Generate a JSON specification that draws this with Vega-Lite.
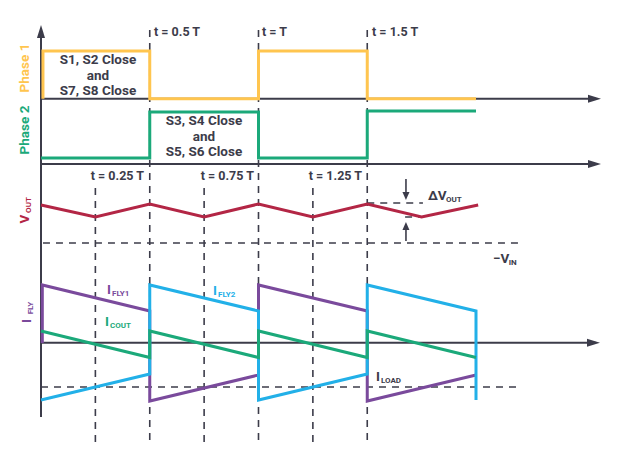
{
  "$schema": "https://vega.github.io/schema/vega-lite/v6.json",
  "width": 637,
  "height": 458,
  "autosize": {"type": "fit", "contains": "padding"},
  "padding": 0,
  "background": "#ffffff",
  "config": {"view": {"stroke": null}},
  "datasets": {
    "sig": [
      {"s": "ph1", "i": 0, "t": 0.009, "y": 98.7},
      {"s": "ph1", "i": 1, "t": 0.009, "y": 51},
      {"s": "ph1", "i": 2, "t": 0.5, "y": 51},
      {"s": "ph1", "i": 3, "t": 0.5, "y": 98.7},
      {"s": "ph1", "i": 4, "t": 1, "y": 98.7},
      {"s": "ph1", "i": 5, "t": 1, "y": 51},
      {"s": "ph1", "i": 6, "t": 1.5, "y": 51},
      {"s": "ph1", "i": 7, "t": 1.5, "y": 98.7},
      {"s": "ph1", "i": 8, "t": 2, "y": 98.7},
      {"s": "ph2", "i": 0, "t": 0, "y": 158},
      {"s": "ph2", "i": 1, "t": 0.5, "y": 158},
      {"s": "ph2", "i": 2, "t": 0.5, "y": 112},
      {"s": "ph2", "i": 3, "t": 1, "y": 112},
      {"s": "ph2", "i": 4, "t": 1, "y": 158},
      {"s": "ph2", "i": 5, "t": 1.5, "y": 158},
      {"s": "ph2", "i": 6, "t": 1.5, "y": 111},
      {"s": "ph2", "i": 7, "t": 2, "y": 111},
      {"s": "vout", "i": 0, "t": 0, "y": 205},
      {"s": "vout", "i": 1, "t": 0.25, "y": 217},
      {"s": "vout", "i": 2, "t": 0.5, "y": 204},
      {"s": "vout", "i": 3, "t": 0.75, "y": 217},
      {"s": "vout", "i": 4, "t": 1, "y": 204},
      {"s": "vout", "i": 5, "t": 1.25, "y": 217},
      {"s": "vout", "i": 6, "t": 1.5, "y": 204},
      {"s": "vout", "i": 7, "t": 1.75, "y": 217},
      {"s": "vout", "i": 8, "t": 2.01, "y": 205},
      {"s": "ifly1", "i": 0, "t": 0.006, "y": 343},
      {"s": "ifly1", "i": 1, "t": 0.006, "y": 285},
      {"s": "ifly1", "i": 2, "t": 0.5, "y": 311},
      {"s": "ifly1", "i": 3, "t": 0.5, "y": 401},
      {"s": "ifly1", "i": 4, "t": 1, "y": 375},
      {"s": "ifly1", "i": 5, "t": 1, "y": 285},
      {"s": "ifly1", "i": 6, "t": 1.5, "y": 311},
      {"s": "ifly1", "i": 7, "t": 1.5, "y": 401},
      {"s": "ifly1", "i": 8, "t": 2, "y": 375},
      {"s": "ifly2", "i": 0, "t": 0, "y": 400},
      {"s": "ifly2", "i": 1, "t": 0.5, "y": 374},
      {"s": "ifly2", "i": 2, "t": 0.5, "y": 285},
      {"s": "ifly2", "i": 3, "t": 1, "y": 311},
      {"s": "ifly2", "i": 4, "t": 1, "y": 400},
      {"s": "ifly2", "i": 5, "t": 1.5, "y": 374},
      {"s": "ifly2", "i": 6, "t": 1.5, "y": 285},
      {"s": "ifly2", "i": 7, "t": 2, "y": 311},
      {"s": "ifly2", "i": 8, "t": 2, "y": 400},
      {"s": "icout", "i": 0, "t": 0, "y": 331},
      {"s": "icout", "i": 1, "t": 0.5, "y": 357.5},
      {"s": "icout", "i": 2, "t": 0.5, "y": 331},
      {"s": "icout", "i": 3, "t": 1, "y": 357.5},
      {"s": "icout", "i": 4, "t": 1, "y": 331},
      {"s": "icout", "i": 5, "t": 1.5, "y": 357.5},
      {"s": "icout", "i": 6, "t": 1.5, "y": 331},
      {"s": "icout", "i": 7, "t": 2, "y": 357.5}
    ],
    "rules": [
      {"k": "dash", "t": 0.5, "t2": 0.5, "y": 30, "y2": 445},
      {"k": "dash", "t": 1, "t2": 1, "y": 30, "y2": 445},
      {"k": "dash", "t": 1.5, "t2": 1.5, "y": 30, "y2": 445},
      {"k": "dash", "t": 0.25, "t2": 0.25, "y": 188, "y2": 445},
      {"k": "dash", "t": 0.75, "t2": 0.75, "y": 188, "y2": 445},
      {"k": "dash", "t": 1.25, "t2": 1.25, "y": 188, "y2": 445},
      {"k": "dash", "t": 0.009, "t2": 2.2115, "y": 243, "y2": 243},
      {"k": "dash", "t": 0, "t2": 2.202, "y": 387, "y2": 387},
      {"k": "dash", "t": 1.5, "t2": 1.756, "y": 203, "y2": 203},
      {"k": "dash", "t": 1.674, "t2": 1.756, "y": 217, "y2": 217},
      {"k": "axis", "t": 0, "t2": 0, "y": 32, "y2": 417},
      {"k": "axis", "t": 0, "t2": 2.55, "y": 98.7, "y2": 98.7},
      {"k": "axis", "t": 0, "t2": 2.55, "y": 164, "y2": 164},
      {"k": "axis", "t": 0, "t2": 2.55, "y": 342.7, "y2": 342.7},
      {"k": "thin", "t": 1.678, "t2": 1.678, "y": 179, "y2": 195},
      {"k": "thin", "t": 1.678, "t2": 1.678, "y": 226, "y2": 241}
    ],
    "arrows": [
      {"dir": "right", "t": 2.5747, "y": 98.7},
      {"dir": "right", "t": 2.5747, "y": 164},
      {"dir": "right", "t": 2.5701, "y": 342.7},
      {"dir": "up", "t": 0, "y": 25},
      {"dir": "downS", "t": 1.678, "y": 200},
      {"dir": "upS", "t": 1.678, "y": 222}
    ],
    "labels": [
      {"kind": "center", "txt": "S1, S2 Close", "t": 0.2621, "y": 60, "c": "ink"},
      {"kind": "center", "txt": "and", "t": 0.2621, "y": 76, "c": "ink"},
      {"kind": "center", "txt": "S7, S8 Close", "t": 0.2621, "y": 91, "c": "ink"},
      {"kind": "center", "txt": "S3, S4 Close", "t": 0.7494, "y": 121, "c": "ink"},
      {"kind": "center", "txt": "and", "t": 0.7494, "y": 137, "c": "ink"},
      {"kind": "center", "txt": "S5, S6 Close", "t": 0.7494, "y": 152, "c": "ink"},
      {"kind": "left", "txt": "t = 0.5 T", "t": 0.5195, "y": 32, "c": "ink"},
      {"kind": "left", "txt": "t = T", "t": 1.016, "y": 32, "c": "ink"},
      {"kind": "left", "txt": "t = 1.5 T", "t": 1.522, "y": 32, "c": "ink"},
      {"kind": "right", "txt": "t = 0.25 T", "t": 0.4736, "y": 176, "c": "ink"},
      {"kind": "right", "txt": "t = 0.75 T", "t": 0.979, "y": 176, "c": "ink"},
      {"kind": "right", "txt": "t = 1.25 T", "t": 1.476, "y": 176, "c": "ink"},
      {"kind": "main", "txt": "I", "t": 0.3034, "y": 290, "c": "ifly1"},
      {"kind": "main", "txt": "I", "t": 0.7908, "y": 291, "c": "ifly2"},
      {"kind": "main", "txt": "I", "t": 0.2943, "y": 322, "c": "icout"},
      {"kind": "main", "txt": "I", "t": 1.54, "y": 377, "c": "ink"},
      {"kind": "main", "txt": "ΔV", "t": 1.779, "y": 196, "c": "ink"},
      {"kind": "main", "txt": "−V", "t": 2.078, "y": 259, "c": "ink"},
      {"kind": "sub", "txt": "FLY1", "t": 0.3264, "y": 294, "c": "ifly1"},
      {"kind": "sub", "txt": "FLY2", "t": 0.8138, "y": 295, "c": "ifly2"},
      {"kind": "sub", "txt": "COUT", "t": 0.3172, "y": 326, "c": "icout"},
      {"kind": "sub", "txt": "LOAD", "t": 1.563, "y": 381, "c": "ink"},
      {"kind": "sub", "txt": "OUT", "t": 1.862, "y": 200, "c": "ink"},
      {"kind": "sub", "txt": "IN", "t": 2.15, "y": 263, "c": "ink"},
      {"kind": "rot", "txt": "Phase 1", "t": -0.0736, "y": 68, "c": "ph1"},
      {"kind": "rot", "txt": "Phase 2", "t": -0.0736, "y": 130, "c": "ph2"},
      {"kind": "rot", "txt": "V", "t": -0.0736, "y": 219, "c": "vout"},
      {"kind": "rot", "txt": "I", "t": -0.0644, "y": 321, "c": "ifly1"},
      {"kind": "rotsub", "txt": "OUT", "t": -0.0552, "y": 205, "c": "vout"},
      {"kind": "rotsub", "txt": "FLY", "t": -0.046, "y": 308, "c": "ifly1"}
    ]
  },
  "encoding": {
    "x": {"field": "t", "type": "quantitative", "axis": null, "scale": {"domain": [-0.18851, 2.74023], "nice": false, "zero": false}},
    "y": {"field": "y", "type": "quantitative", "axis": null, "scale": {"domain": [0, 458], "reverse": true, "nice": false, "zero": false}}
  },
  "layer": [
    {
      "data": {"name": "rules"},
      "transform": [{"filter": "datum.k === 'dash'"}],
      "mark": {"type": "rule", "color": "#3C3C4A", "strokeWidth": 1.6, "strokeDash": [7, 6]},
      "encoding": {"x2": {"field": "t2"}, "y2": {"field": "y2"}}
    },
    {
      "data": {"name": "rules"},
      "transform": [{"filter": "datum.k === 'axis'"}],
      "mark": {"type": "rule", "color": "#3C3C4A", "strokeWidth": 2},
      "encoding": {"x2": {"field": "t2"}, "y2": {"field": "y2"}}
    },
    {
      "data": {"name": "rules"},
      "transform": [{"filter": "datum.k === 'thin'"}],
      "mark": {"type": "rule", "color": "#3C3C4A", "strokeWidth": 1.6},
      "encoding": {"x2": {"field": "t2"}, "y2": {"field": "y2"}}
    },
    {
      "data": {"name": "arrows"},
      "mark": {"type": "point", "filled": true, "opacity": 1, "color": "#3C3C4A", "size": 169, "strokeWidth": 0},
      "encoding": {
        "shape": {"field": "dir", "type": "nominal", "legend": null,
          "scale": {"domain": ["right", "up", "downS", "upS"],
                    "range": ["M0,0L-2,-0.62L-2,0.62Z", "M0,0L-0.62,2L0.62,2Z", "M0,0L-0.54,-1.23L0.54,-1.23Z", "M0,0L-0.54,1.23L0.54,1.23Z"]}}
      }
    },
    {
      "data": {"name": "sig"},
      "transform": [{"filter": "datum.s === 'ph1' || datum.s === 'ph2'"}],
      "mark": {"type": "line", "strokeWidth": 3, "strokeJoin": "miter"},
      "encoding": {"detail": {"field": "s"}, "order": {"field": "i", "type": "quantitative"},
        "color": {"field": "s", "type": "nominal", "legend": null,
          "scale": {"domain": ["ph1", "ph2", "vout", "ifly1", "ifly2", "icout", "ink"],
                    "range": ["#FFC54F", "#1BA97A", "#B32645", "#7A4A9C", "#22B0E8", "#1BA97A", "#3C3C4A"]}}}
    },
    {
      "data": {"name": "sig"},
      "transform": [{"filter": "datum.s === 'vout'"}],
      "mark": {"type": "line", "strokeWidth": 3, "strokeJoin": "miter"},
      "encoding": {"order": {"field": "i", "type": "quantitative"}, "color": {"field": "s", "type": "nominal", "legend": null}}
    },
    {
      "data": {"name": "sig"},
      "transform": [{"filter": "datum.s === 'ifly1'"}],
      "mark": {"type": "line", "strokeWidth": 3, "strokeJoin": "miter"},
      "encoding": {"order": {"field": "i", "type": "quantitative"}, "color": {"field": "s", "type": "nominal", "legend": null}}
    },
    {
      "data": {"name": "sig"},
      "transform": [{"filter": "datum.s === 'ifly2'"}],
      "mark": {"type": "line", "strokeWidth": 3, "strokeJoin": "miter"},
      "encoding": {"order": {"field": "i", "type": "quantitative"}, "color": {"field": "s", "type": "nominal", "legend": null}}
    },
    {
      "data": {"name": "sig"},
      "transform": [{"filter": "datum.s === 'icout'"}],
      "mark": {"type": "line", "strokeWidth": 3, "strokeJoin": "miter"},
      "encoding": {"order": {"field": "i", "type": "quantitative"}, "color": {"field": "s", "type": "nominal", "legend": null}}
    },
    {
      "data": {"name": "labels"},
      "transform": [{"filter": "datum.kind === 'center'"}],
      "mark": {"type": "text", "font": "Roboto", "fontSize": 13.5, "fontWeight": "bold", "align": "center", "baseline": "middle"},
      "encoding": {"text": {"field": "txt"}, "color": {"field": "c", "type": "nominal", "legend": null}}
    },
    {
      "data": {"name": "labels"},
      "transform": [{"filter": "datum.kind === 'left'"}],
      "mark": {"type": "text", "font": "Roboto", "fontSize": 12.5, "fontWeight": "bold", "align": "left", "baseline": "middle"},
      "encoding": {"text": {"field": "txt"}, "color": {"field": "c", "type": "nominal", "legend": null}}
    },
    {
      "data": {"name": "labels"},
      "transform": [{"filter": "datum.kind === 'right'"}],
      "mark": {"type": "text", "font": "Roboto", "fontSize": 12.5, "fontWeight": "bold", "align": "right", "baseline": "middle"},
      "encoding": {"text": {"field": "txt"}, "color": {"field": "c", "type": "nominal", "legend": null}}
    },
    {
      "data": {"name": "labels"},
      "transform": [{"filter": "datum.kind === 'main'"}],
      "mark": {"type": "text", "font": "Roboto", "fontSize": 13.5, "fontWeight": "bold", "align": "left", "baseline": "middle"},
      "encoding": {"text": {"field": "txt"}, "color": {"field": "c", "type": "nominal", "legend": null}}
    },
    {
      "data": {"name": "labels"},
      "transform": [{"filter": "datum.kind === 'sub'"}],
      "mark": {"type": "text", "font": "Roboto", "fontSize": 8, "fontWeight": "bold", "align": "left", "baseline": "middle"},
      "encoding": {"text": {"field": "txt"}, "color": {"field": "c", "type": "nominal", "legend": null}}
    },
    {
      "data": {"name": "labels"},
      "transform": [{"filter": "datum.kind === 'rot'"}],
      "mark": {"type": "text", "font": "Roboto", "fontSize": 13.5, "fontWeight": "bold", "align": "center", "baseline": "middle", "angle": 270},
      "encoding": {"text": {"field": "txt"}, "color": {"field": "c", "type": "nominal", "legend": null}}
    },
    {
      "data": {"name": "labels"},
      "transform": [{"filter": "datum.kind === 'rotsub'"}],
      "mark": {"type": "text", "font": "Roboto", "fontSize": 8, "fontWeight": "bold", "align": "center", "baseline": "middle", "angle": 270},
      "encoding": {"text": {"field": "txt"}, "color": {"field": "c", "type": "nominal", "legend": null}}
    }
  ],
  "resolve": {"scale": {"color": "shared"}}
}
